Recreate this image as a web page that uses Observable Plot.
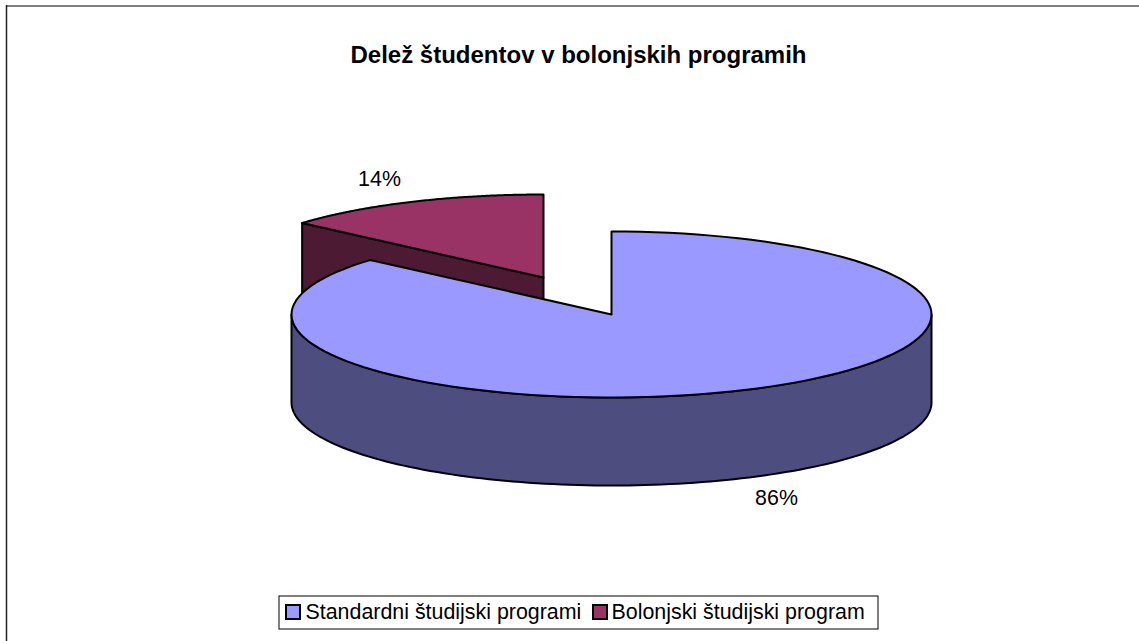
<!DOCTYPE html>
<html><head><meta charset="utf-8">
<script src="https://cdn.jsdelivr.net/npm/d3@7"></script>
<script src="https://cdn.jsdelivr.net/npm/@observablehq/plot@0.6"></script>
<style>html,body{margin:0;padding:0;background:#fff}svg{display:block}</style>
</head><body><script>
const categories = ["Standardni študijski programi", "Bolonjski študijski program"];
const shares = [0.864, 0.136];
const topColors = ["#9999ff", "#993366"];
const wallColors = ["#4d4d80", "#4d1a33"];
const title = "Delež študentov v bolonjskih programih";

// pie layout
const W = 1139, H = 641;
const rx = 320, ry = 83, depth = 88;
const centers = [[611, 314], [543, 277]];
const font = "Liberation Sans";

const onEllipse = (c, a, dy = 0) => [c[0] + rx * Math.sin(a), c[1] - ry * Math.cos(a) + dy];
const arc = (c, a0, a1, dy = 0) => d3.range(121).map(i => onEllipse(c, a0 + (a1 - a0) * i / 120, dy));

const start = [0, shares[0] * 2 * Math.PI];
const end = [shares[0] * 2 * Math.PI, 2 * Math.PI];

const bigTop = [centers[0], ...arc(centers[0], start[0], end[0]), centers[0]];
const smallTop = [centers[1], ...arc(centers[1], start[1], end[1]), centers[1]];
const c1 = centers[1];
const e1 = onEllipse(c1, start[1]);
const smallWall = [c1, e1, [e1[0], e1[1] + depth], [c1[0], c1[1] + depth], c1];
const bigWall = [...arc(centers[0], Math.PI / 2, 3 * Math.PI / 2), ...arc(centers[0], 3 * Math.PI / 2, Math.PI / 2, depth)];
bigWall.push(bigWall[0]);

const poly = (pts, fill) => Plot.line(pts, {x: d => d[0], y: d => d[1], fill, stroke: "#000", strokeWidth: 2, strokeLinejoin: "round", curve: "linear"});

const labels = [
  {t: d3.format(".0%")(shares[1]), x: 379, y: 179},
  {t: d3.format(".0%")(shares[0]), x: 776, y: 498}
];

const legendItems = [
  {x: 293, tx: 305, i: 0},
  {x: 600, tx: 611, i: 1}
];

const chart = Plot.plot({
  width: W, height: H, margin: 0,
  x: {domain: [0, W], range: [0, W], axis: null},
  y: {domain: [0, H], range: [0, H], axis: null},
  marks: [
    Plot.ruleY([5.5], {x1: 6, x2: W, stroke: "#555", strokeWidth: 1.5}),
    Plot.ruleX([6], {y1: 5, y2: H, stroke: "#222", strokeWidth: 1.5}),
    Plot.text([title], {x: 578, y: 55, text: d => d, fontFamily: font, fontWeight: "bold", fontSize: 24, fill: "#000", textAnchor: "middle"}),
    poly(smallWall, wallColors[1]),
    poly(smallTop, topColors[1]),
    poly(bigWall, wallColors[0]),
    poly(bigTop, topColors[0]),
    Plot.text(labels, {x: "x", y: "y", text: "t", fontFamily: font, fontSize: 21.4, fill: "#000"}),
    Plot.rect([0], {x1: 279, x2: 878, y1: 596, y2: 629, fill: "#fff", stroke: "#000", strokeWidth: 1}),
    Plot.rect(legendItems, {x1: d => d.x - 7, x2: d => d.x + 7, y1: 605, y2: 619, fill: d => topColors[d.i], stroke: "#000", strokeWidth: 2}),
    Plot.text(legendItems, {x: "tx", y: 612, text: d => categories[d.i], fontFamily: font, fontSize: 21.4, textAnchor: "start", fill: "#000"})
  ]
});
document.body.appendChild(chart);
</script></body></html>
